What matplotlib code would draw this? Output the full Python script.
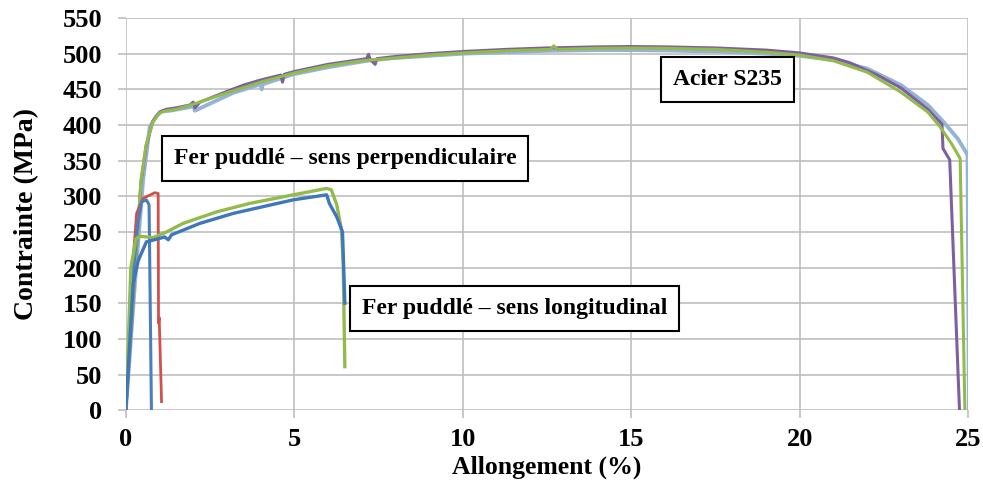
import matplotlib
matplotlib.use("Agg")
import matplotlib.pyplot as plt

# Acier S235 (three specimens)
acier_violet_x = [0, 0.25, 0.45, 0.6, 0.8, 1.0, 1.2, 1.5, 1.9, 2.0, 2.05, 2.2, 3.0, 3.5, 4.0,
                  4.6, 4.65, 4.7, 5.0, 6.0, 7.15, 7.2, 7.25, 7.4, 7.45, 8.0, 9.0, 10.0, 11.3,
                  12.5, 14.0, 15.0, 16.0, 17.5, 19.0, 20.0, 21.0, 21.5, 22.3, 23.0, 23.8,
                  24.22, 24.25, 24.45, 24.74]
acier_violet_y = [0, 180, 320, 370, 405, 418, 422, 424, 428, 432, 424, 432, 447, 456, 463,
                  470, 460, 471, 475, 485, 493, 499, 492, 485, 493, 496, 500, 503, 506,
                  508, 509.5, 510, 509.5, 508, 505, 501, 494, 487, 470, 452, 422,
                  401, 367, 351, 0]

acier_vert_x = [0, 0.25, 0.45, 0.6, 0.8, 1.0, 1.2, 1.5, 2.0, 3.0, 4.0, 5.0, 6.0, 7.0, 8.0,
                9.0, 10.0, 11.3, 12.6, 12.7, 12.8, 14.0, 15.0, 16.0, 17.5, 19.0, 20.0,
                21.0, 22.0, 23.0, 23.8, 24.17, 24.5, 24.76, 24.9]
acier_vert_y = [0, 185, 322, 372, 404, 417, 420, 422, 429, 445, 460, 473, 483, 490, 494,
                498, 501, 504, 506, 511, 506, 507.5, 508, 507.5, 506, 502, 498,
                490, 474, 446, 418, 397, 374, 353, 0]

acier_bleu_x = [0, 0.25, 0.51, 0.71, 0.9, 1.06, 1.31, 1.9, 2.0, 2.05, 3.18, 4.0, 4.03, 4.06,
                4.96, 6.0, 7.15, 8.0, 9.0, 10.0, 11.25, 11.3, 11.35, 12.5, 14.0, 15.0,
                16.0, 17.5, 19.0, 20.0, 21.0, 22.0, 23.0, 23.8, 24.27, 24.7, 24.98, 25.02]
acier_bleu_y = [0, 165, 322, 397, 412, 419, 420, 425, 427, 420, 445, 457, 450, 457,
                471, 481, 490, 494, 497, 500, 502, 505, 502, 504, 505, 505,
                504.5, 503, 500, 497, 491, 479, 456, 428, 404, 380, 358, 0]

# Fer puddlé - sens perpendiculaire
perp_rouge_x = [0, 0.17, 0.32, 0.51, 0.86, 0.96, 0.97, 0.99, 1.06]
perp_rouge_y = [0, 182, 276, 297, 305, 304, 122, 130, 12]

perp_bleu_x = [0, 0.2, 0.35, 0.47, 0.61, 0.69, 0.76]
perp_bleu_y = [0, 180, 260, 292, 295, 288, 0]

# Fer puddlé - sens longitudinal
long_vert_x = [0, 0.15, 0.3, 0.4, 0.81, 1.21, 1.7, 2.69, 3.68, 4.97, 5.96, 6.1, 6.26,
               6.4, 6.45, 6.5]
long_vert_y = [0, 200, 240, 244, 242, 250, 262, 278, 290, 302, 311, 309, 288,
               253, 206, 61]

long_bleu_x = [0, 0.22, 0.37, 0.61, 1.01, 1.15, 1.26, 1.36, 2.2, 3.19, 4.97, 5.96, 6.04,
               6.26, 6.43, 6.5]
long_bleu_y = [0, 178, 210, 236, 241, 243, 239, 246, 262, 276, 295, 302, 290,
               271, 250, 150]

x_ticks = [0, 5, 10, 15, 20, 25]
y_ticks = list(range(0, 551, 50))

FONT = "Liberation Serif"
GRID = "#BFBFBF"

fig = plt.figure(figsize=(9.83, 4.93), dpi=100)
ax = fig.add_axes([0.128, 0.168, 0.857, 0.7955])

ax.plot(acier_bleu_x, acier_bleu_y, color="#95B3D7", lw=2.8, zorder=3)
ax.plot(acier_vert_x, acier_vert_y, color="#92BB4C", lw=2.2, zorder=4)
ax.plot(acier_violet_x, acier_violet_y, color="#7E60A0", lw=2.2, zorder=3.5)
ax.plot(perp_rouge_x, perp_rouge_y, color="#D0504E", lw=2.0, zorder=4)
ax.plot(perp_bleu_x, perp_bleu_y, color="#4A7EC0", lw=2.2, zorder=4)
ax.plot(long_vert_x, long_vert_y, color="#92BB4C", lw=2.4, zorder=4)
ax.plot(long_bleu_x, long_bleu_y, color="#3F77BD", lw=2.4, zorder=4)

ax.set_xlim(0, 25)
ax.set_ylim(0, 550)
ax.set_xticks(x_ticks)
ax.set_yticks(y_ticks)
ax.grid(True, color=GRID, lw=1.2, zorder=0)
ax.set_axisbelow(True)
for s in ax.spines.values():
    s.set_visible(False)
ax.tick_params(direction="out", length=6, width=1.2, color=GRID, labelsize=19)
ax.tick_params(axis="y", pad=11)
ax.tick_params(axis="x", pad=7)
for lab in ax.get_xticklabels() + ax.get_yticklabels():
    lab.set_fontfamily(FONT)
    lab.set_fontweight("bold")

ax.set_xlabel("Allongement (%)", fontsize=18.5, fontweight="bold", family=FONT, labelpad=3)
ax.set_ylabel("Contrainte (MPa)", fontsize=20, fontweight="bold", family=FONT, labelpad=17)

box = dict(boxstyle="square,pad=0.5", fc="white", ec="black", lw=1.5)
ax.text(6.5, 353, "Fer puddlé – sens perpendiculaire", ha="center", va="center",
        fontsize=17, fontweight="bold", family=FONT, bbox=box, zorder=6)
ax.text(17.86, 464, "Acier S235", ha="center", va="center",
        fontsize=17, fontweight="bold", family=FONT, bbox=box, zorder=6)
ax.text(11.53, 143, "Fer puddlé – sens longitudinal", ha="center", va="center",
        fontsize=17, fontweight="bold", family=FONT, bbox=box, zorder=6)

fig.savefig("out.png", dpi=100)
